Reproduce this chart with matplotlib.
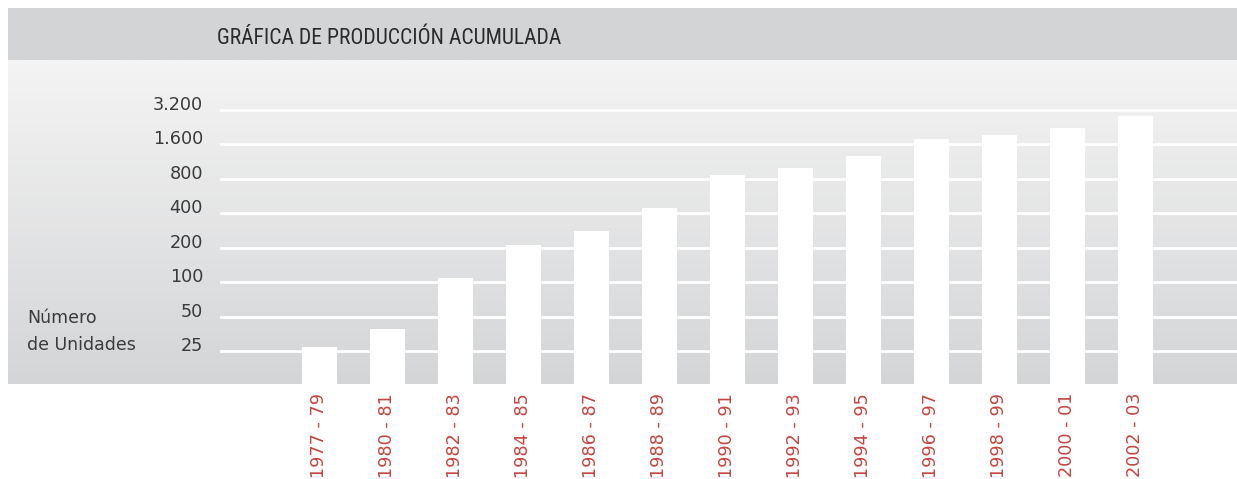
import numpy as np
import matplotlib
matplotlib.use("Agg")
import matplotlib.pyplot as plt
from matplotlib.patches import Rectangle
from matplotlib.ticker import FixedLocator, NullLocator

# ---- data ----
periods = ["1977 - 79", "1980 - 81", "1982 - 83", "1984 - 85", "1986 - 87",
           "1988 - 89", "1990 - 91", "1992 - 93", "1994 - 95", "1996 - 97",
           "1998 - 99", "2000 - 01", "2002 - 03"]
units = [26.5, 38.4, 107, 212, 281, 447, 866, 987, 1265, 1787, 1933, 2217, 2835]
ytick_values = [25, 50, 100, 200, 400, 800, 1600, 3200]
ytick_labels = ["25", "50", "100", "200", "400", "800", "1.600", "3.200"]
title = "GRÁFICA DE PRODUCCIÓN ACUMULADA"
ylabel_lines = "Número\nde Unidades"

W, H = 1237, 479
fig = plt.figure(figsize=(W / 100, H / 100), dpi=100)
fig.patch.set_facecolor("white")

def fx(px):
    return px / W

def fy(py):
    return 1 - py / H

# title band
fig.patches.append(Rectangle((fx(8), fy(60)), fx(W - 8), (60 - 8) / H,
                             transform=fig.transFigure, facecolor="#d3d4d6",
                             edgecolor="none", zorder=0))
fig.text(fx(217), fy(44), title, fontsize=15.6, color="#2b2b2b",
         family=["DejaVu Sans Condensed", "Liberation Sans Narrow", "Roboto Condensed",
                 "Roboto", "DejaVu Sans"],
         ha="left", va="baseline")

# gradient panel
bg = fig.add_axes([fx(8), fy(384), fx(W - 8), (384 - 60) / H], zorder=0)
grad = np.linspace(0, 1, 256).reshape(-1, 1)
top = np.array([0xf4, 0xf4, 0xf4]) / 255
bot = np.array([0xd4, 0xd5, 0xd7]) / 255
img = top[None, None, :] * (1 - grad[:, :, None]) + bot[None, None, :] * grad[:, :, None]
bg.imshow(img, aspect="auto", extent=[0, 1, 0, 1], origin="upper")
bg.set_axis_off()

# main axes
ax = fig.add_axes([fx(220), fy(384), fx(W - 220), (384 - 60) / H], zorder=1)
ax.patch.set_alpha(0)
ax.set_yscale("log", base=2)
ax.set_ylim(12.94, 8746)
ax.set_xlim(-1.463, 13.493)
for s in ax.spines.values():
    s.set_visible(False)

x = np.arange(len(periods))
for v in ytick_values:
    ax.axhline(v, color="white", lw=2.0, zorder=1)
ax.bar(x, units, width=0.515, bottom=1, color="white", zorder=2)

ax.yaxis.set_major_locator(FixedLocator(ytick_values))
ax.yaxis.set_minor_locator(NullLocator())
ax.set_yticks(ytick_values, ytick_labels, fontsize=12.7, color="#3a3a3a",
              va="baseline", family="DejaVu Sans")
ax.tick_params(axis="y", length=0, pad=12.2)
ax.set_xticks(x, periods, rotation=90, fontsize=12.7, color="#c4453f",
              ha="center", va="top", family="DejaVu Sans")
ax.tick_params(axis="x", length=0, pad=6.5)

fig.text(fx(27), fy(350), ylabel_lines, fontsize=12.5, color="#3a3a3a",
         ha="left", va="baseline", linespacing=1.62, family="DejaVu Sans")

fig.savefig("out.png", dpi=100)
